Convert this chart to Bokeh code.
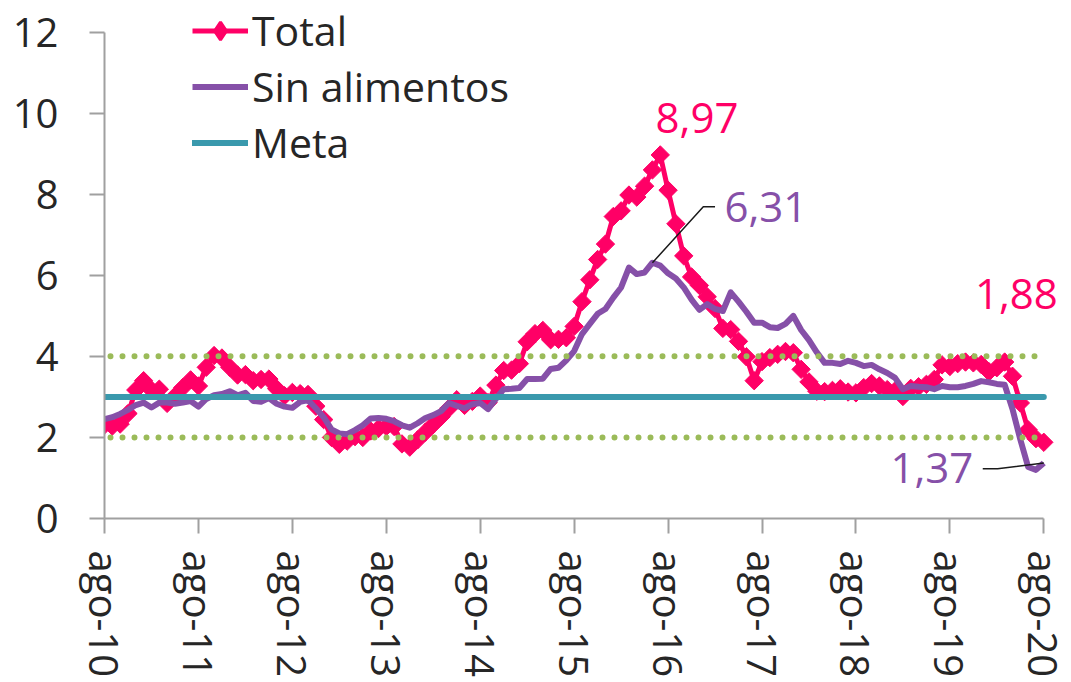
import math
from bokeh.plotting import figure
from bokeh.models import Range1d, FixedTicker, Legend, LegendItem, Label
from bokeh.embed import file_html
from bokeh.resources import INLINE

# ---------------- data ----------------
tick_labels = ["ago-10", "ago-11", "ago-12", "ago-13", "ago-14", "ago-15",
               "ago-16", "ago-17", "ago-18", "ago-19", "ago-20"]

total = [
    2.31, 2.28, 2.33, 2.59, 3.17,
    3.40, 3.17, 3.19, 2.84, 3.02, 3.23, 3.42, 3.27, 3.73, 4.02, 3.96, 3.73,
    3.54, 3.55, 3.40, 3.43, 3.44, 3.20, 3.03, 3.11, 3.08, 3.06, 2.77, 2.44,
    2.00, 1.83, 1.91, 2.02, 2.00, 2.16, 2.22, 2.27, 2.27, 1.84, 1.76, 1.94,
    2.13, 2.32, 2.51, 2.72, 2.93, 2.79, 2.89, 3.02, 2.86, 3.29, 3.65, 3.66,
    3.82, 4.36, 4.56, 4.64, 4.41, 4.42, 4.46, 4.74, 5.35, 5.89, 6.39, 6.77,
    7.45, 7.59, 7.98, 7.93, 8.20, 8.60, 8.97, 8.10, 7.27, 6.48, 5.96, 5.75,
    5.47, 5.18, 4.69, 4.66, 4.37, 3.99, 3.40, 3.87, 3.97, 4.05, 4.12, 4.09,
    3.68, 3.37, 3.14, 3.13, 3.16, 3.20, 3.12, 3.10, 3.23, 3.33, 3.27, 3.18,
    3.15, 3.01, 3.21, 3.25, 3.31, 3.43, 3.79, 3.75, 3.82, 3.86, 3.84, 3.80,
    3.62, 3.72, 3.86, 3.51, 2.85, 2.19, 1.97, 1.88,
]

sin_alimentos = [
    2.45, 2.50, 2.58, 2.68, 2.80, 2.86, 2.74, 2.86, 2.86, 2.83,
    2.86, 2.90, 2.76, 2.95, 3.04, 3.07, 3.14, 3.04, 3.10, 2.90,
    2.88, 2.97, 2.83, 2.76, 2.73, 2.88, 2.92, 2.72, 2.50, 2.20,
    2.10, 2.08, 2.18, 2.30, 2.47, 2.48, 2.46, 2.40, 2.30, 2.24,
    2.35, 2.48, 2.55, 2.65, 2.85, 2.78, 2.72, 2.82, 2.85, 2.70,
    2.95, 3.19, 3.20, 3.22, 3.44, 3.44, 3.45, 3.69, 3.72, 3.90,
    4.13, 4.55, 4.80, 5.05, 5.17, 5.45, 5.70, 6.19, 6.03, 6.07,
    6.31, 6.24, 6.05, 5.92, 5.70, 5.40, 5.15, 5.29, 5.17, 5.12,
    5.58, 5.35, 5.10, 4.83, 4.83, 4.72, 4.70, 4.80, 5.00, 4.65,
    4.40, 4.10, 3.84, 3.84, 3.81, 3.89, 3.84, 3.76, 3.79, 3.68,
    3.59, 3.47, 3.19, 3.27, 3.25, 3.24, 3.19, 3.27, 3.24, 3.24,
    3.27, 3.32, 3.39, 3.36, 3.32, 3.30, 2.70, 1.95, 1.27, 1.20,
    1.37,
]

meta = 3.0
rango_bajo = 2.0
rango_alto = 4.0
y_ticks = [0, 2, 4, 6, 8, 10, 12]

months = list(range(len(total)))
tick_pos = [i * 12 for i in range(len(tick_labels))]

# ---------------- style ----------------
PINK = "#FF0066"
PURPLE = "#8650A8"
TEAL = "#3A99AD"
GREEN = "#9BBB59"
TXT = "#262626"
AXIS = "#A0A0A0"
FONT = "Open Sans"


def fmt(v):
    return f"{v:.2f}".replace(".", ",")


# plot area is a bit larger than the axes so that labels/legend are not clipped
x_pad = 2.9
y_pad = 0.78

p = figure(width=1071, height=682, output_backend="svg", toolbar_location=None,
           x_range=Range1d(months[0], months[-1] + x_pad),
           y_range=Range1d(y_ticks[0], y_ticks[-1] + y_pad),
           min_border_left=104, min_border_right=5,
           min_border_top=0, min_border_bottom=164)
p.outline_line_color = None
p.grid.visible = False
p.background_fill_color = "white"
p.border_fill_color = "white"

# axes
p.xaxis.ticker = FixedTicker(ticks=tick_pos)
p.xaxis.bounds = (months[0], months[-1])
p.xaxis.major_label_overrides = {t: lab for t, lab in zip(tick_pos, tick_labels)}
p.xaxis.major_label_orientation = "vertical"
p.xaxis.minor_tick_line_color = None
p.xaxis.major_tick_in = 0
p.xaxis.major_tick_out = 15
p.xaxis.major_label_standoff = 17

p.yaxis.ticker = FixedTicker(ticks=y_ticks)
p.yaxis.bounds = (y_ticks[0], y_ticks[-1])
p.yaxis.minor_tick_line_color = None
p.yaxis.major_tick_in = 0
p.yaxis.major_tick_out = 15
p.yaxis.major_label_standoff = 31

for ax in (p.xaxis, p.yaxis):
    ax.axis_line_color = AXIS
    ax.axis_line_width = 2
    ax.major_tick_line_color = AXIS
    ax.major_tick_line_width = 2
    ax.major_label_text_font = FONT
    ax.major_label_text_font_size = "40px"
    ax.major_label_text_color = TXT

# series
r_total_line = p.line(months, total, line_color=PINK, line_width=5, line_join="round")
r_total_mark = p.scatter(months, total, marker="square", size=13, angle=math.pi / 4,
                         fill_color=PINK, line_color=PINK, line_width=1)
# diamond used only for the legend entry (no visible data)
r_total_leg = p.scatter([float("nan")], [float("nan")], marker="diamond",
                        fill_color=PINK, line_color=PINK, line_width=3)
r_sin = p.line(months, sin_alimentos, line_color=PURPLE, line_width=6, line_join="round")
r_meta = p.line([months[0], months[-1]], [meta, meta], line_color=TEAL,
                line_width=6, line_cap="round")
for lvl in (rango_bajo, rango_alto):
    p.line([months[0], months[-1]], [lvl, lvl], line_color=GREEN, line_width=6,
           line_dash="0 12", line_dash_offset=-6, line_cap="round")

# annotations
i_tot_max = total.index(max(total))
i_sin_max = sin_alimentos.index(max(sin_alimentos))
i_last = months[-1]

# leader lines
p.line([i_sin_max, i_sin_max + 6.5, i_sin_max + 8.0],
       [sin_alimentos[i_sin_max], sin_alimentos[i_sin_max] + 1.38, sin_alimentos[i_sin_max] + 1.38],
       line_color="#1a1a1a", line_width=1.5)
p.line([i_last - 7.8, i_last - 5.9, i_last],
       [sin_alimentos[i_last] - 0.14, sin_alimentos[i_last] - 0.14, sin_alimentos[i_last]],
       line_color="#1a1a1a", line_width=1.5)

labels = [
    (i_tot_max + 4.7, total[i_tot_max] + 0.90, fmt(total[i_tot_max]), PINK),
    (i_sin_max + 14.5, sin_alimentos[i_sin_max] + 1.37, fmt(sin_alimentos[i_sin_max]), PURPLE),
    (i_last - 3.5, total[i_last] + 3.65, fmt(total[i_last]), PINK),
    (i_last - 14.3, sin_alimentos[i_last] - 0.13, fmt(sin_alimentos[i_last]), PURPLE),
]
for lx, ly, txt, col in labels:
    p.add_layout(Label(x=lx, y=ly, text=txt, text_color=col, text_font=FONT,
                       text_font_size="42px", text_align="center",
                       text_baseline="alphabetic"))

legend = Legend(items=[
    LegendItem(label="Total", renderers=[r_total_line, r_total_leg]),
    LegendItem(label="Sin alimentos", renderers=[r_sin]),
    LegendItem(label="Meta", renderers=[r_meta]),
], location=(88, 348), padding=0, margin=0, spacing=-4,
    glyph_width=56, glyph_height=45, label_height=50, label_standoff=4,
    label_text_font=FONT, label_text_font_size="41px", label_text_color=TXT,
    border_line_color=None, background_fill_alpha=0)
p.add_layout(legend)

open("out.html", "w").write(file_html(p, INLINE))
